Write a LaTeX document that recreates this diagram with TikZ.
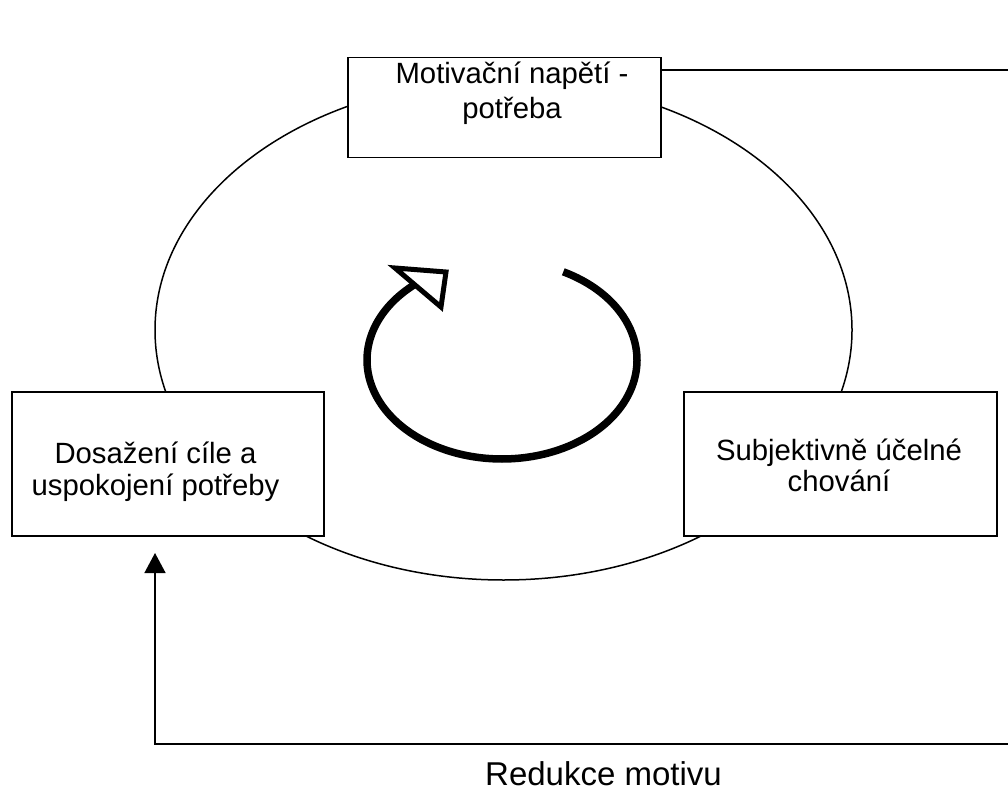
\documentclass[tikz,border=0pt]{standalone}
\usepackage{fontspec}
\setmainfont{Liberation Sans}
\usetikzlibrary{arrows.meta,shapes.geometric}
\newcommand\twoline[3]{\vtop{\baselineskip=#1\relax\halign{\hfil##\hfil\cr #2\cr #3\cr}}}
\begin{document}
\begin{tikzpicture}[x=1pt,y=-1pt,
  thinline/.style={line width=1.5pt},
  box/.style={draw, line width=1.5pt, fill=white, rectangle, inner sep=0pt, anchor=north west},
  lbl/.style={font=\fontsize{29.3}{35}\selectfont, inner sep=0pt, anchor=base},
  loopline/.style={line width=7.5pt},
]
\useasboundingbox (0,0) rectangle (1008,791);
% cycle ellipse
\node[draw, ellipse, line width=1.5pt, minimum width=697pt, minimum height=500pt, inner sep=0pt] (cyc) at (503.5,330) {};
% circular arrow
\draw[loopline] plot[domain=-63:233, samples=90, smooth] ({502+135*cos(\x)},{360+99*sin(\x)});
\draw[line width=5pt, fill=white] (395,268) -- (446,272) -- (441,307) -- cycle;
% boxes
\node[box, minimum width=313pt, minimum height=100pt] (top) at (347,57) {};
\node[box, minimum width=312pt, minimum height=144pt] (left) at (11,391) {};
\node[box, minimum width=313pt, minimum height=144pt] (right) at (683,391) {};
% texts
\node[lbl] (toptxt) at (512,83.5) {\twoline{35pt}{Motivační napětí -}{potřeba}};
\node[lbl] (lefttxt) at (155.5,463.3) {\twoline{32.4pt}{Dosažení cíle a}{uspokojení potřeby}};
\node[lbl] (righttxt) at (839,460) {\twoline{31.7pt}{Subjektivně účelné}{chování}};
% connectors
\coordinate (tr) at (1008,70);
\draw[thinline] (top.east |- tr) -- (tr);
\coordinate (br) at (1008,744);
\coordinate (bl) at (155,744);
\coordinate (tip) at (155,553);
\draw[thinline, -{Triangle[width=21pt,length=20pt]}] (br) -- (bl) -- (tip);
\node[font=\fontsize{33}{39}\selectfont, anchor=base west, inner sep=0pt] (red) at (485,785) {Redukce motivu};
\end{tikzpicture}
\end{document}
